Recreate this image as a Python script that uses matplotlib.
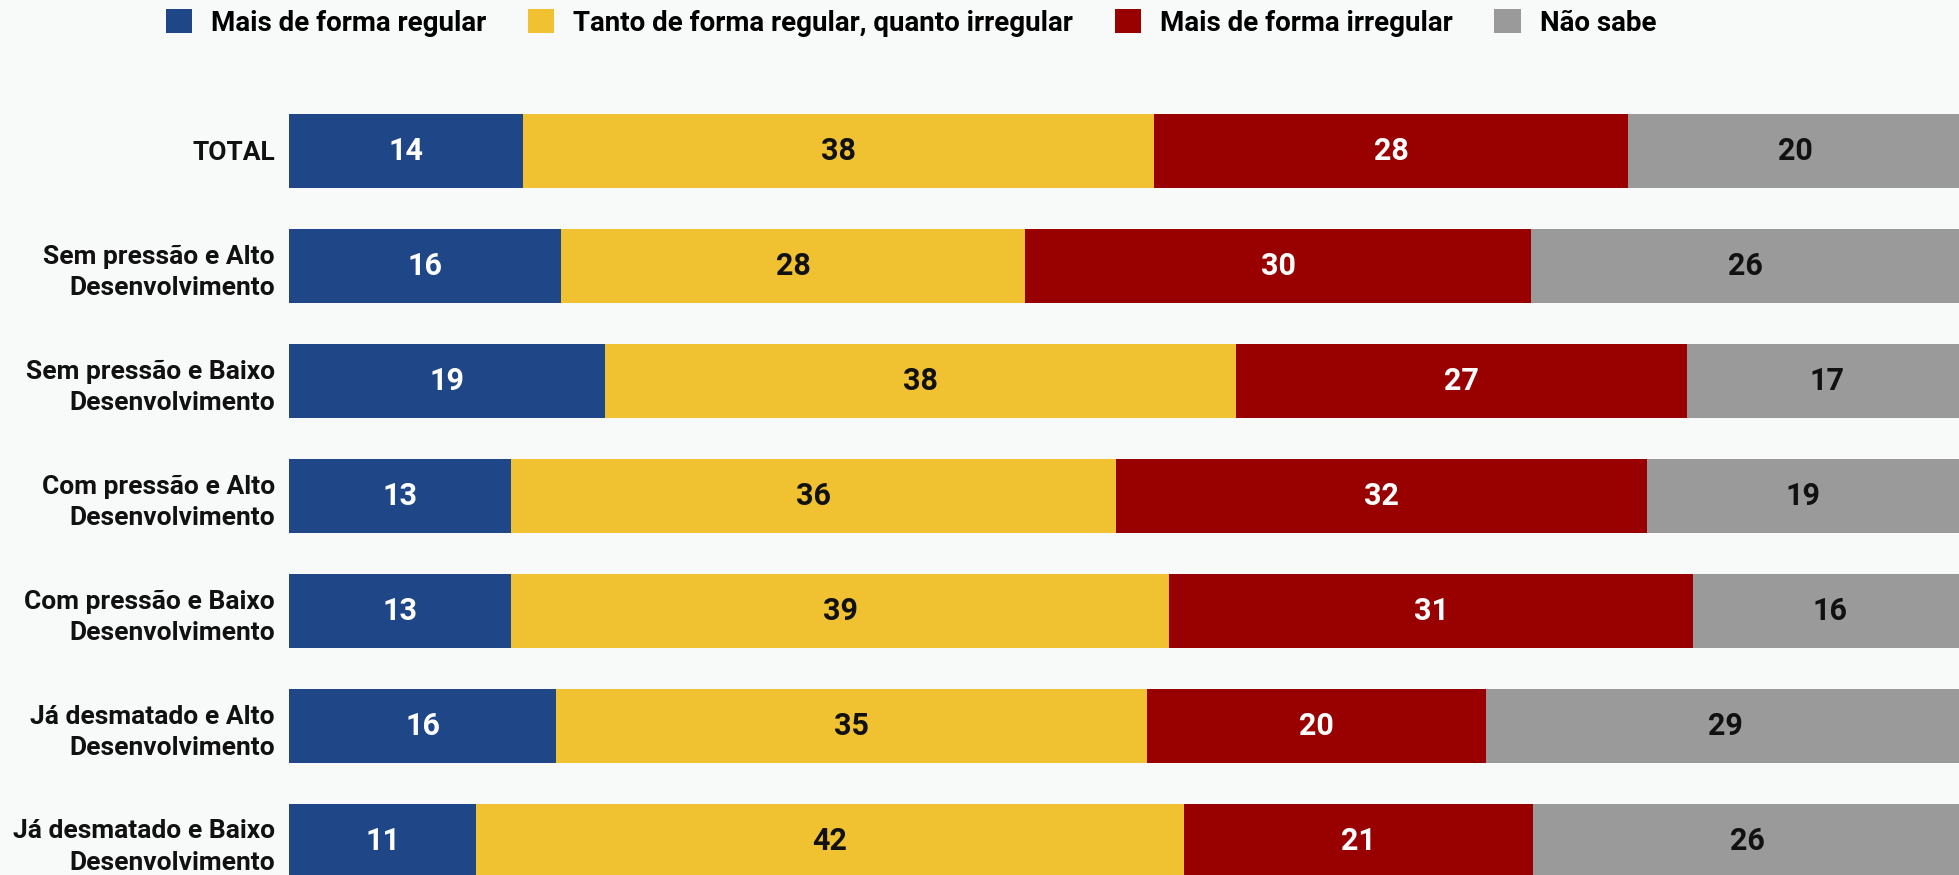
import numpy as np
import matplotlib
matplotlib.use('Agg')
from matplotlib import pyplot as plt

plt.rcParams['font.family'] = ['Roboto', 'DejaVu Sans']

categories = ['TOTAL',
              'Sem pressão e Alto\nDesenvolvimento',
              'Sem pressão e Baixo\nDesenvolvimento',
              'Com pressão e Alto\nDesenvolvimento',
              'Com pressão e Baixo\nDesenvolvimento',
              'Já desmatado e Alto\nDesenvolvimento',
              'Já desmatado e Baixo\nDesenvolvimento']
series_names = ['Mais de forma regular',
                'Tanto de forma regular, quanto irregular',
                'Mais de forma irregular',
                'Não sabe']
# (labels are rounded)
regular = [14.0, 16.3, 18.9, 13.3, 13.3, 16.0, 11.2]
ambos = [37.8, 27.8, 37.8, 36.2, 39.4, 35.4, 42.4]
irregular = [28.4, 30.3, 27.0, 31.8, 31.4, 20.3, 20.9]
nao_sabe = [20.0, 25.6, 16.8, 18.7, 16.4, 28.6, 25.7]

colors = ['#1f4788', '#f0c232', '#990000', '#9a9a9a']
text_colors = ['white', '#111111', 'white', '#111111']
bg = '#f8f9f9'

W, H = 1959, 875
fig = plt.figure(figsize=(W / 100, H / 100), dpi=100, facecolor=bg)
top_px = 90
ax = fig.add_axes([289 / W, 0, 1 - 289 / W, (H - top_px) / H])
ax.set_facecolor(bg)

y = np.arange(len(categories))
left = np.zeros(len(categories))
handles = []
for vals, name, c, tc in zip([regular, ambos, irregular, nao_sabe], series_names, colors, text_colors):
    vals = np.array(vals, dtype=float)
    b = ax.barh(y, vals, left=left, height=74 / 115, color=c, label=name)
    handles.append(b)
    for yi, l, v in zip(y, left, vals):
        ax.text(l + v / 2, yi, '%.0f' % v, ha='center', va='center',
                color=tc, fontsize=22, fontweight='bold')
    left += vals

ax.set_xlim(0, 100)
ax.set_ylim(6 + (H - 841) / 115, -(151 - top_px) / 115)
ax.set_yticks(y)
ax.set_yticklabels(categories, fontsize=19, fontweight='bold', color='#111111',
                   linespacing=1.4)
ax.tick_params(axis='y', length=0, pad=10)
ax.set_xticks([])
for s in ax.spines.values():
    s.set_visible(False)

fig.legend(handles=handles, loc='center', bbox_to_anchor=(0.465, 1 - 23 / H),
           ncol=4, frameon=False, prop={'weight': 'bold', 'size': 20},
           handlelength=0.95, handleheight=0.95, handletextpad=0.68,
           columnspacing=1.5)

fig.savefig('out.png', dpi=100, facecolor=bg)
